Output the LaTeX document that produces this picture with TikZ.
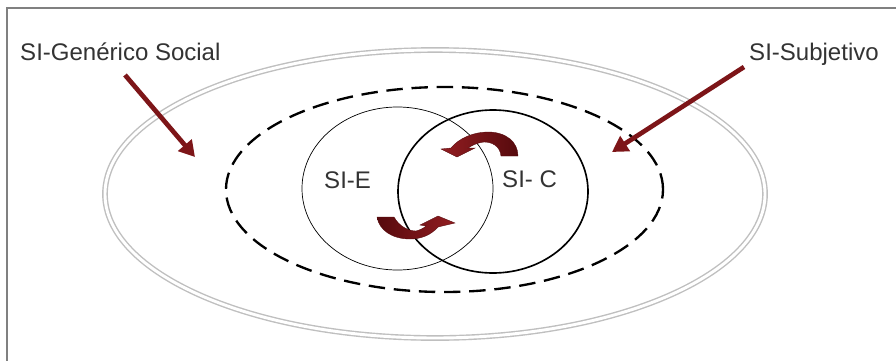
\documentclass[tikz,border=0pt]{standalone}
\usepackage{fontspec}
\setmainfont{Liberation Sans}
\usetikzlibrary{arrows.meta,positioning,shapes.geometric}
\definecolor{arrowred}{HTML}{7D1518}
\definecolor{darkred}{HTML}{560A0D}
\definecolor{lightred}{HTML}{921D21}
\definecolor{txtgray}{HTML}{333333}

\begin{document}
\begin{tikzpicture}[x=0.03cm, y=-0.03cm,
  lbl/.style={font=\fontsize{20.5}{24}\selectfont, text=txtgray, inner sep=0pt, anchor=base west},
  set/.style={ellipse, draw, inner sep=0pt},
  pointer/.style={arrowred, line width=4pt, -{Triangle[length=0.47cm, width=0.52cm]}},
  turn/.style={draw=darkred, line width=0.3pt}]
  \useasboundingbox (0,0) rectangle (896,360);
  \clip (0,0) rectangle (896,360);
  \fill[white] (0,0) rectangle (896,360);
  \draw[black!50, line width=1.2pt] (7,8) rectangle (920,380);

  % sets
  \node[set, minimum width=19.8cm, minimum height=8.64cm, draw=black!25, double=white, double distance=2.5pt, line width=1.2pt] (gen) at (435,194) {};
  \node[set, minimum width=13.11cm, minimum height=6.15cm, line width=2pt, dash pattern=on 14pt off 7.5pt] (subj) at (444.5,189.5) {};
  \node[set, minimum width=5.73cm, minimum height=4.89cm, line width=0.6pt] (se) at (397.5,188.5) {};
  \node[set, minimum width=5.7cm, minimum height=4.89cm, line width=1.4pt] (sc) at (493,191.5) {};

  \node[lbl] (genl) at (20,60) {SI-Genérico Social};
  \node[lbl] (subjl) at (749,60) {SI-Subjetivo};
  \node[lbl] (sel) at (324,188) {SI-E};
  \node[lbl] (scl) at (502,187) {SI- C};

  \coordinate (genA) at (125,75);
  \coordinate (genB) at (195,157);
  \coordinate (subjA) at (744,67);
  \coordinate (subjB) at (612,152);
  \draw[pointer] (genA) -- (genB);
  \draw[pointer] (subjA) -- (subjB);

  % exchange arrows
  \path[turn, left color=lightred, right color=darkred]
    (518,156) -- (501,156)
    .. controls (500,146) and (492,142) .. (484,142)
    .. controls (476,143) and (471,146) .. (468,148)
    -- (475,148) -- (457,157) -- (441,149) -- (451,148)
    .. controls (459,138) and (474,132) .. (488,132)
    .. controls (506,132) and (518,142) .. (518,156) -- cycle;
  \path[turn, left color=darkred, right color=lightred]
    (377,217) -- (394,217)
    .. controls (399,226) and (408,231) .. (416,231)
    .. controls (420,230) and (424,228) .. (426,226)
    -- (420,225) -- (438,216) -- (455,223) -- (438,227)
    .. controls (430,236) and (420,239) .. (410,239)
    .. controls (392,239) and (379,230) .. (377,217) -- cycle;
\end{tikzpicture}
\end{document}
